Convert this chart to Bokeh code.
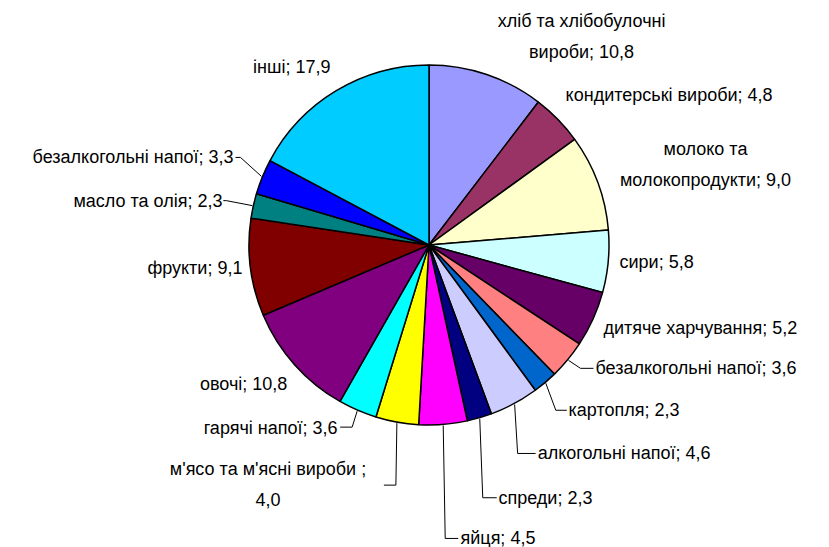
import math
from bokeh.plotting import figure
from bokeh.models import Range1d, ColumnDataSource
from bokeh.embed import file_html
from bokeh.resources import INLINE
from bokeh.core.properties import value

# ---------------- data ----------------
categories = [
    "хліб та хлібобулочні\nвироби", "кондитерські вироби", "молоко та\nмолокопродукти",
    "сири", "дитяче харчування", "безалкогольні напої", "картопля", "алкогольні напої",
    "спреди", "яйця", "м'ясо та м'ясні вироби ", "гарячі напої", "овочі", "фрукти",
    "масло та олія", "безалкогольні напої", "інші",
]
values = [10.8, 4.8, 9.0, 5.8, 5.2, 3.6, 2.3, 4.6, 2.3, 4.5, 4.0, 3.6, 10.8, 9.1, 2.3, 3.3, 17.9]
value_sep = [" ", " ", " ", " ", " ", " ", " ", " ", " ", " ", "\n", " ", " ", " ", " ", " ", " "]

# ---------------- styles / layout ----------------
colors = ["#9999FF", "#993366", "#FFFFCC", "#CCFFFF", "#660066", "#FF8080", "#0066CC",
          "#CCCCFF", "#000080", "#FF00FF", "#FFFF00", "#00FFFF", "#800080", "#800000",
          "#008080", "#0000FF", "#00CCFF"]
CX, CY, R = 428.5, 244.5, 180.0        # pie centre / radius in screenshot pixels
R_EDGE = 181.0
# label offset from slice edge point (screen px, +y down) and alignment
label_off = [(94.5, -37), (7, -24), (106.8, -18), (10.3, 0), (9.5, 8), (27, 8), (22.7, 27),
             (23, 49), (18.7, 79), (17.3, 113), (-128.9, 61.4), (-19.6, 16.4), (-6.4, 19),
             (-7, 0), (-29.9, -5), (-28, -19), (-5.3, -23.3)]
label_align = ["center", "left", "center", "left", "left", "left", "left", "left", "left",
               "left", "center", "right", "right", "right", "right", "right", "right"]
# leader lines: (elbow dx, elbow dy, end dx) relative to edge point, None = no leader
leaders = [None, None, None, None, None, (12, 8, 25), (10, 27, 21), (3, 49, 21), (3, 79, 17),
           (2, 113, 15), (-1, 62, -13), (-5, 16, -17), None, None, (-26, -5, -29),
           (-21, -19, -26), None]

FONT = "Liberation Sans"
FSIZE = "18px"

W, H = 829, 547
p = figure(width=W, height=H, output_backend="svg", toolbar_location=None,
           x_range=Range1d(0, W), y_range=Range1d(-H, 0),
           min_border=0, outline_line_color=None, background_fill_color="white")
p.axis.visible = False
p.grid.visible = False

total = sum(values)
cum = 0.0
starts, ends, mids = [], [], []
for v in values:
    a0 = cum / total * 2 * math.pi
    cum += v
    a1 = cum / total * 2 * math.pi
    starts.append(math.pi / 2 - a0)
    ends.append(math.pi / 2 - a1)
    mids.append((a0 + a1) / 2)

src = ColumnDataSource(dict(x=[CX] * len(values), y=[-CY] * len(values),
                            start=starts, end=ends, color=colors))
p.wedge(x="x", y="y", radius=R, start_angle="start", end_angle="end", direction="clock",
        fill_color="color", line_color="black", line_width=1.5, source=src)

# labels and leaders
groups = {"left": dict(x=[], y=[], t=[]), "right": dict(x=[], y=[], t=[]),
          "center": dict(x=[], y=[], t=[])}
lxs, lys = [], []
for i, (cat, v) in enumerate(zip(categories, values)):
    a = mids[i]
    ex = CX + R_EDGE * math.sin(a)
    ey = CY - R_EDGE * math.cos(a)
    dx, dy = label_off[i]
    txt = f"{cat};{value_sep[i]}{v:.1f}".replace(".", ",")
    g = groups[label_align[i]]
    g["x"].append(ex + dx)
    g["y"].append(-(ey + dy))
    g["t"].append(txt)
    if leaders[i] is not None:
        bx, by, hx = leaders[i]
        lxs.append([ex, ex + bx, ex + hx])
        lys.append([-ey, -(ey + by), -(ey + by)])

p.multi_line(xs=lxs, ys=lys, line_color="black", line_width=1)

for align, g in groups.items():
    p.text(x=g["x"], y=g["y"], text=g["t"], text_align=align, text_baseline="middle",
           text_font=value(FONT), text_font_size=FSIZE, text_color="black",
           text_line_height=1.55)

open("out.html", "w").write(file_html(p, INLINE))
